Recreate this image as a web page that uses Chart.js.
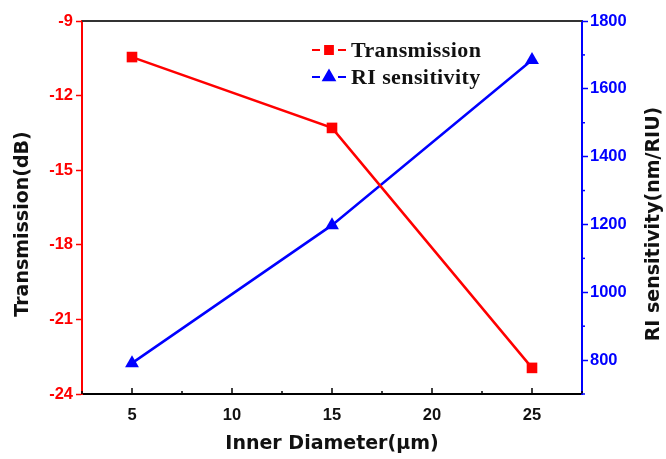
<!DOCTYPE html>
<html>
<head>
<meta charset="utf-8">
<script src="https://cdn.jsdelivr.net/npm/chart.js@4"></script>
<style>
  html, body { margin: 0; padding: 0; background: #fff; }
  #wrap { width: 666px; height: 459px; }
</style>
</head>
<body>
<div id="wrap"><canvas id="myChart" width="666" height="459"></canvas></div>
<script>
const diameters = [5, 15, 25];
const transmission = [-10.45, -13.3, -22.95];
const riSensitivity = [791, 1198, 1685];
const xTicks = [5, 10, 15, 20, 25];
const rightTicks = [800, 1000, 1200, 1400, 1600, 1800];

const RED = "rgb(255, 0, 0)";
const BLUE = "rgb(0, 0, 255)";
const tickFont = { family: "Liberation Sans", weight: "bold", size: 16.5 };
const titleFont = "bold 19px 'DejaVu Sans', sans-serif";

// minor ticks, top frame line, inward x ticks, y titles, legend
const framePlugin = {
  id: "frame",
  afterDraw(chart) {
    const c = chart.ctx;
    const a = chart.chartArea;
    const x = chart.scales.x, yl = chart.scales.yL, yr = chart.scales.yR;
    c.save();
    // top line
    c.strokeStyle = "#333";
    c.lineWidth = 2;
    c.beginPath();
    c.moveTo(a.left, a.top);
    c.lineTo(a.right, a.top);
    c.stroke();
    // x ticks pointing inward
    c.strokeStyle = "#000";
    c.lineWidth = 1.5;
    for (let v = 2.5; v <= 27.5; v += 2.5) {
      const px = x.getPixelForValue(v);
      const len = v % 5 === 0 ? 6 : 3;
      c.beginPath();
      c.moveTo(px, a.bottom);
      c.lineTo(px, a.bottom - len);
      c.stroke();
    }
    // minor y ticks
    c.strokeStyle = RED;
    for (let v = -22.5; v > -9; v += 3) {
      const py = yl.getPixelForValue(v);
      c.beginPath();
      c.moveTo(a.left, py);
      c.lineTo(a.left - 3, py);
      c.stroke();
    }
    c.strokeStyle = BLUE;
    for (let v = 700; v <= 1700; v += 200) {
      const py = yr.getPixelForValue(v);
      c.beginPath();
      c.moveTo(a.right, py);
      c.lineTo(a.right + 3, py);
      c.stroke();
    }
    // y axis titles, both reading bottom to top
    c.fillStyle = "#111";
    c.font = titleFont;
    c.textAlign = "center";
    c.textBaseline = "middle";
    [["Transmission(dB)", 23], ["RI sensitivity(nm/RIU)", 654]].forEach(([t, tx]) => {
      c.save();
      c.translate(tx, 224);
      c.rotate(-Math.PI / 2);
      c.fillText(t, 0, 0);
      c.restore();
    });
    // legend
    const items = [
      { label: "Transmission", color: RED, style: "rect", r: 5.5, y: 50 },
      { label: "RI sensitivity", color: BLUE, style: "triangle", r: 6.5, y: 77 }
    ];
    items.forEach(it => {
      c.strokeStyle = it.color;
      c.fillStyle = it.color;
      c.lineWidth = 2;
      c.beginPath();
      c.moveTo(312, it.y); c.lineTo(320, it.y);
      c.moveTo(338, it.y); c.lineTo(346, it.y);
      c.stroke();
      Chart.helpers.drawPoint(c, { pointStyle: it.style, radius: it.r, borderWidth: 1 }, 329, it.y);
      c.fill();
      c.fillStyle = "#111";
      c.font = "bold 22px 'Liberation Serif', serif";
      c.letterSpacing = "0.4px";
      c.textBaseline = "middle";
      c.textAlign = "left";
      c.fillText(it.label, 351, it.y + 1);
      c.letterSpacing = "0px";
    });
    c.restore();
  }
};

new Chart(document.getElementById("myChart"), {
  type: "line",
  data: {
    datasets: [
      {
        label: "Transmission",
        data: diameters.map((d, i) => ({ x: d, y: transmission[i] })),
        yAxisID: "yL",
        borderColor: RED,
        backgroundColor: RED,
        borderWidth: 2.5,
        pointStyle: "rect",
        pointRadius: 7.5,
        pointBorderWidth: 0,
      },
      {
        label: "RI sensitivity",
        data: diameters.map((d, i) => ({ x: d, y: riSensitivity[i] })),
        yAxisID: "yR",
        borderColor: BLUE,
        backgroundColor: BLUE,
        borderWidth: 2.5,
        pointStyle: "triangle",
        pointRadius: 8,
        pointBorderWidth: 0,
      },
    ],
  },
  options: {
    responsive: false,
    animation: false,
    layout: { padding: { top: 21, left: 0, right: 0, bottom: 0 } },
    plugins: { legend: { display: false }, tooltip: { enabled: false } },
    scales: {
      x: {
        type: "linear",
        min: 2.5,
        max: 27.5,
        afterBuildTicks: (s) => { s.ticks = xTicks.map(v => ({ value: v })); },
        afterFit: (s) => { s.height = 65; },
        grid: { display: false, drawTicks: false },
        border: { display: true, color: "#000", width: 2 },
        ticks: { color: "#111", padding: 12, font: tickFont },
        title: {
          display: true,
          text: "Inner Diameter(μm)",
          color: "#111",
          padding: { top: 4 },
          font: { family: "DejaVu Sans", weight: "bold", size: 19 },
        },
      },
      yL: {
        position: "left",
        min: -24,
        max: -9,
        ticks: { stepSize: 3, color: RED, padding: 3, font: tickFont },
        afterFit: (s) => { s.width = 82; },
        grid: { drawOnChartArea: false, tickLength: 6, tickColor: RED, tickWidth: 1.5 },
        border: { color: RED, width: 2 },
      },
      yR: {
        position: "right",
        min: 700,
        max: 1800,
        afterBuildTicks: (s) => { s.ticks = rightTicks.map(v => ({ value: v })); },
        ticks: { color: BLUE, padding: 2, font: tickFont, callback: (v) => String(v) },
        afterFit: (s) => { s.width = 84; },
        grid: { drawOnChartArea: false, tickLength: 6, tickColor: BLUE, tickWidth: 1.5 },
        border: { color: BLUE, width: 2 },
      },
    },
  },
  plugins: [framePlugin],
});
</script>
</body>
</html>
